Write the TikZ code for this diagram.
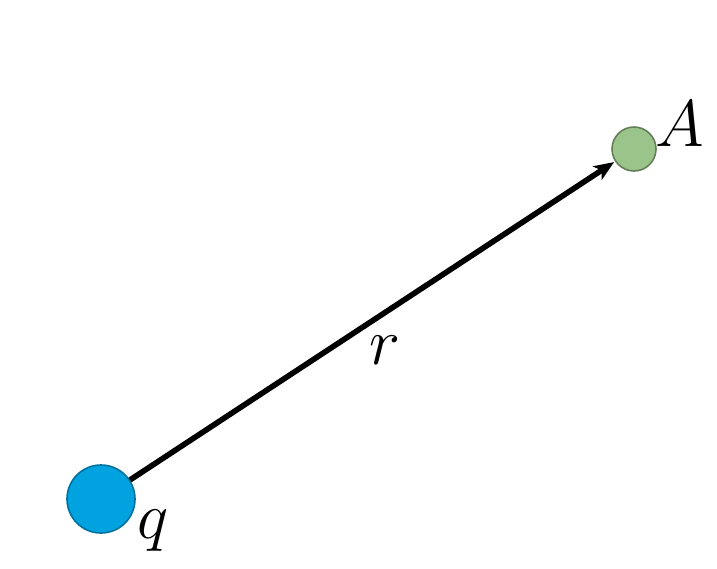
\documentclass[tikz,border=0pt]{standalone}
\usetikzlibrary{arrows.meta,positioning}
\definecolor{chargeblue}{RGB}{0,163,224}
\definecolor{pointgreen}{RGB}{155,196,138}
\newcommand{\bigletter}[1]{\scalebox{1.33}{$#1$}}
\tikzset{
  chargeball/.style={circle,inner sep=0pt,minimum size=34pt,fill=chargeblue,draw=chargeblue!70!black,line width=0.8pt},
  fieldpoint/.style={circle,inner sep=0pt,minimum size=22pt,fill=pointgreen,draw=pointgreen!65!black,line width=0.8pt},
  letter/.style={font=\fontsize{24.88}{28}\selectfont,inner sep=0pt},
  rvector/.style={-{Stealth[length=10pt,width=8pt,inset=2.5pt]}, line width=2.8pt, shorten >=0.5pt}
}
\begin{document}
\begin{tikzpicture}[x=0.5pt,y=-0.5pt]
  \useasboundingbox (0,0) rectangle (717,568);
  \node[chargeball] (q) at (101,499) {};
  \node[fieldpoint] (A) at (634,149) {};
  \draw[rvector] (q) -- (A);
  \node[letter] (qlabel) at (153,531) {\bigletter{q}};
  \node[letter] (Alabel) at (680,124) {\bigletter{A}};
  \node[letter] (rlabel) at (385,350) {\bigletter{r}};
\end{tikzpicture}
\end{document}
